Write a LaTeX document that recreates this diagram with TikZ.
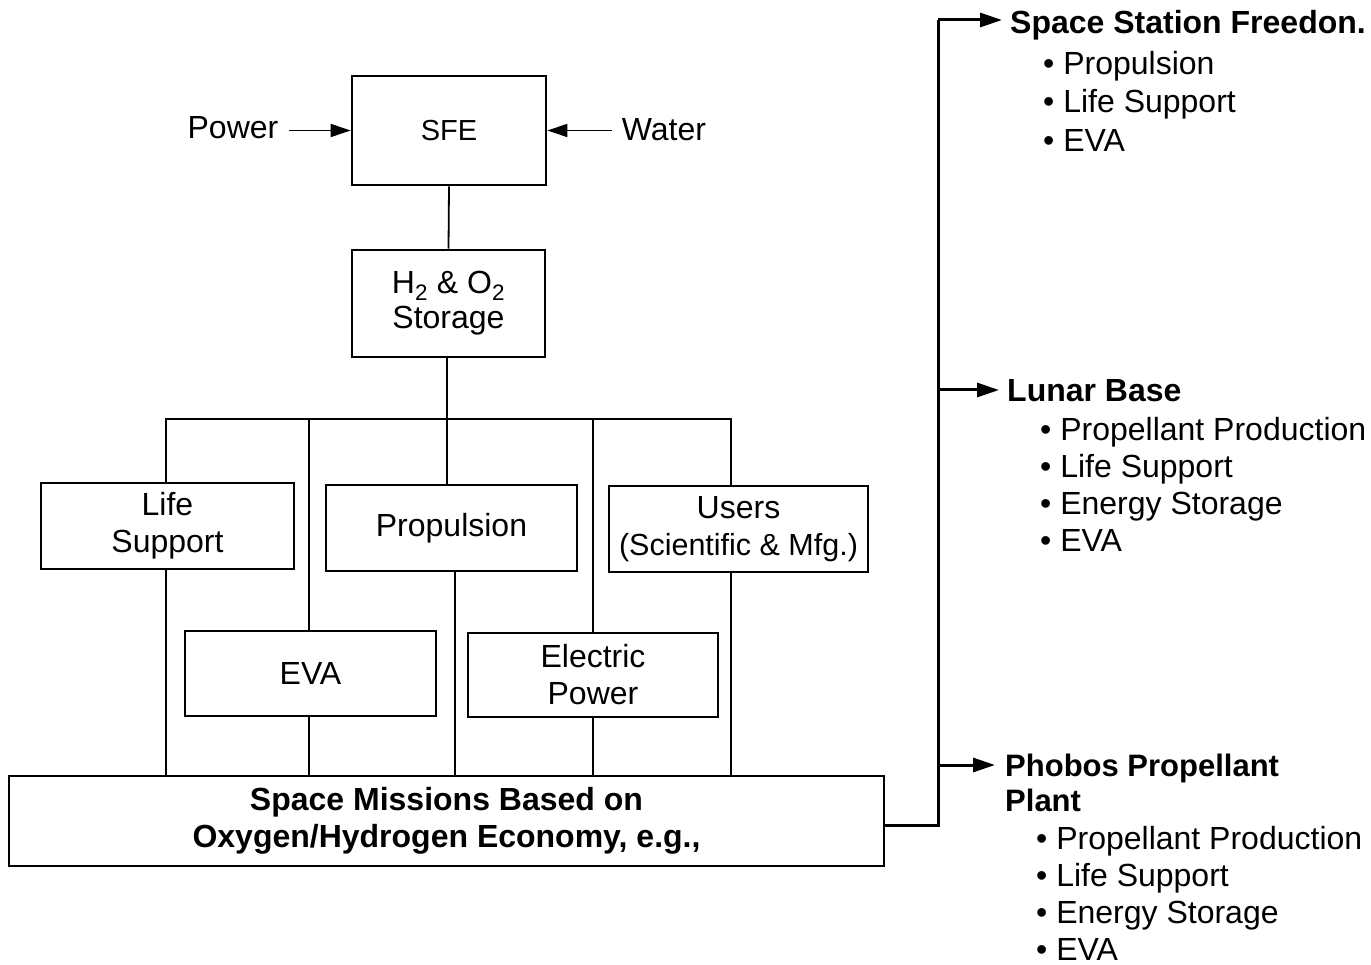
\documentclass[tikz,border=0pt]{standalone}
\usepackage{fontspec}
\setmainfont{Liberation Sans}
\usetikzlibrary{arrows.meta}
\newcommand\myfs{\fontsize{32}{37}\selectfont}
\begin{document}
\begin{tikzpicture}[x=1pt,y=-1pt,
  box/.style={draw, line width=2.6pt, inner sep=0pt, align=center, font=\myfs},
  conn/.style={line width=1.8pt},
  thick line/.style={line width=3pt},
  inarr/.style={line width=1.5pt, -{Triangle[length=20pt,width=13pt]}},
  outarr/.style={line width=3pt, -{Triangle[length=22pt,width=14pt]}},
  lbl/.style={inner sep=0pt, font=\myfs},
  head/.style={inner sep=0pt, anchor=base west, font=\myfs\bfseries, align=left},
  blist/.style={inner sep=0pt, anchor=base west, font=\myfs, align=left}]
\useasboundingbox (0,0) rectangle (1371,965);

% boxes
\node[box, minimum width=194pt, minimum height=109pt, font=\fontsize{29}{35}\selectfont] (sfe) at (449,130.5) {SFE};
\node[box, minimum width=193pt, minimum height=107pt] (stor) at (448.5,303.5) {\raisebox{-4pt}{H\textsubscript{2} \& O\textsubscript{2}}\\[-2pt]\raisebox{-4pt}{Storage}};
\node[box, minimum width=253pt, minimum height=86pt] (life) at (167.5,526) {Life\\Support};
\node[box, minimum width=251pt, minimum height=86pt] (prop) at (451.5,528) {Propulsion};
\node[box, minimum width=259pt, minimum height=86pt] (users) at (738.5,529) {Users\\{\fontsize{30.5}{37}\selectfont (Scientific \& Mfg.)}};
\node[box, minimum width=251pt, minimum height=85pt] (eva) at (310.5,673.5) {EVA};
\node[box, minimum width=250pt, minimum height=84pt] (elec) at (593,675) {Electric\\Power};
\node[box, minimum width=875pt, minimum height=90pt, font=\myfs\bfseries] (miss) at (446.5,821) {Space Missions Based on\\Oxygen/Hydrogen Economy, e.g.,};

% inputs
\node[lbl] (power) at (233,128) {Power};
\node[lbl] (water) at (664,130) {Water};
\draw[inarr, shorten <=10pt] (power.east |- sfe.west) -- (sfe.west);
\draw[inarr, shorten <=10pt] (water.west |- sfe.east) -- (sfe.east);

% distribution
\coordinate (bus) at (447,419);
\draw[conn] (sfe.south) -- (stor.north);
\draw[conn] ([xshift=-1.5pt]stor.south) -- ([xshift=-1.5pt]stor.south |- prop.north);
\draw[conn] ([xshift=-1.5pt]life.north) |- (bus) -| ([xshift=-7.5pt]users.north);
\draw[conn] ([xshift=-1.5pt]eva.north) -- ([xshift=-1.5pt]eva.north |- bus);
\draw[conn] (elec.north) -- (elec.north |- bus);

% to bottom box
\draw[conn] ([xshift=-1.5pt]life.south) -- ([xshift=-1.5pt]life.south |- miss.north);
\draw[conn] ([xshift=-1.5pt]eva.south) -- ([xshift=-1.5pt]eva.south |- miss.north);
\draw[conn] ([xshift=3.5pt]prop.south) -- ([xshift=3.5pt]prop.south |- miss.north);
\draw[conn] (elec.south) -- (elec.south |- miss.north);
\draw[conn] ([xshift=-7.5pt]users.south) -- ([xshift=-7.5pt]users.south |- miss.north);

% right side texts
\node[head] (ssf) at (1010,33.5) {Space Station Freedon.};
\node[blist, font=\fontsize{32}{38.5}\selectfont] (ssfl) at (1043,151.5) {• Propulsion\\• Life Support\\• EVA};
\node[head] (lunar) at (1007,401.5) {Lunar Base};
\node[blist] (lunarl) at (1040,551.5) {• Propellant Production\\• Life Support\\• Energy Storage\\• EVA};
\node[head, font=\fontsize{31}{35}\bfseries\selectfont] (phobos) at (1005,811.5) {Phobos Propellant\\Plant};
\node[blist, font=\fontsize{32}{37}\selectfont] (phobosl) at (1036,960) {• Propellant Production\\• Life Support\\• Energy Storage\\• EVA};

% right connectors
\coordinate (jtop) at (938,20);
\coordinate (jl) at (938,390);
\coordinate (jp) at (938,765);
\coordinate (jb) at (938,825);
\draw[thick line] ([yshift=-4pt]miss.east) -- (jb) -- (jtop);
\draw[outarr] (jtop) -- ([xshift=-8pt]jtop -| ssf.west);
\draw[outarr] (jl) -- ([xshift=-8pt]jl -| lunar.west);
\draw[outarr] (jp) -- ([xshift=-10pt]jp -| phobos.west);
\end{tikzpicture}
\end{document}
